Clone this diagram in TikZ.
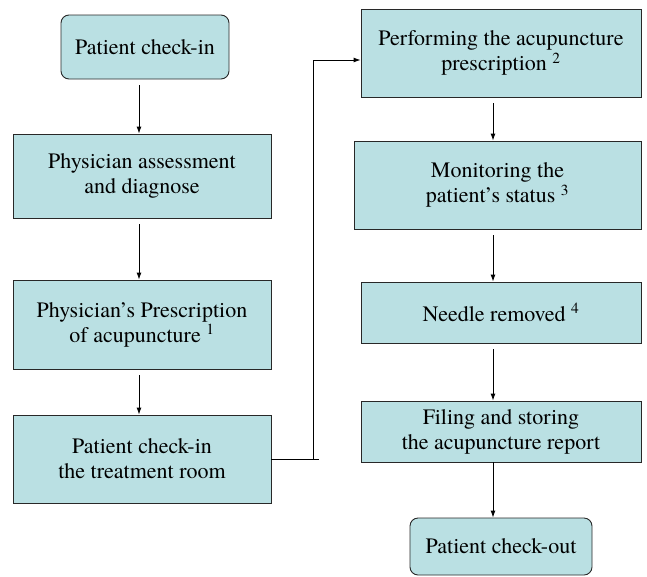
\documentclass[tikz,border=0pt]{standalone}
\usepackage{fontspec}
\newfontfamily\termsfont{TeX Gyre Termes}
\usetikzlibrary{arrows.meta}
\definecolor{boxfill}{RGB}{186,224,227}
\definecolor{boxline}{RGB}{40,40,40}
\tikzset{
  stepbox/.style={draw=boxline, fill=boxfill, line width=0.9pt, inner sep=0pt,
    align=center, font=\termsfont\fontsize{22}{25}\selectfont},
  endbox/.style={stepbox, rounded corners=8pt},
  flow/.style={-{Latex[length=7pt,width=5pt]}, line width=0.9pt, shorten <=6pt},
}
\begin{document}
\begin{tikzpicture}[x=1pt, y=-1pt]
    \useasboundingbox (0,0) rectangle (647,576);
    % left column
    \node[endbox, minimum width=168pt, minimum height=64pt] (checkin) at (145,47) {Patient check-in};
    \node[stepbox, minimum width=258pt, minimum height=84pt] (assess) at (142,176) {Physician assessment\\and diagnose};
    \node[stepbox, minimum width=258pt, minimum height=89pt] (prescr) at (142,324.5) {Physician’s Prescription\\of acupuncture \textsuperscript{1}};
    \node[stepbox, minimum width=258pt, minimum height=88pt] (treat) at (142,459) {Patient check-in\\the treatment room};
    % right column
    \node[stepbox, minimum width=280pt, minimum height=88pt] (perform) at (501,53) {Performing the acupuncture\\prescription \textsuperscript{2}};
    \node[stepbox, minimum width=287pt, minimum height=88pt] (monitor) at (497.5,185) {Monitoring the\\patient’s status \textsuperscript{3}};
    \node[stepbox, minimum width=280pt, minimum height=61pt] (needle) at (501,312.5) {Needle removed \textsuperscript{4}};
    \node[stepbox, minimum width=280pt, minimum height=61pt] (filing) at (501,431.5) {Filing and storing\\the acupuncture report};
    \node[endbox, minimum width=182pt, minimum height=57pt] (checkout) at (501,546.5) {Patient check-out};
    % arrows
    \draw[flow] ([xshift=-6pt]checkin.south) -- ([xshift=-3pt]assess.north);
    \draw[flow] ([xshift=-3pt]assess.south) -- ([xshift=-3pt]prescr.north);
    \draw[flow] ([xshift=-3pt]prescr.south) -- ([xshift=-3pt]treat.north);
    \draw[flow] ([xshift=-8pt]perform.south) -- ([xshift=-4.5pt]monitor.north);
    \draw[flow] ([xshift=-4.5pt]monitor.south) -- ([xshift=-8pt]needle.north);
    \draw[flow] ([xshift=-8pt]needle.south) -- ([xshift=-8pt]filing.north);
    \draw[flow, shorten <=0pt] ([xshift=-8pt]filing.south) -- ([xshift=-8pt]checkout.north);
    % link between the columns
    \coordinate (tail) at (319,459);
    \coordinate (bendlow) at (313,459);
    \coordinate (bendhigh) at (313,60);
    \draw[line width=0.9pt] (treat.east) -- (tail);
    \draw[flow, shorten <=0pt] (bendlow) -- (bendhigh) -- ([yshift=-7pt]perform.west);
\end{tikzpicture}
\end{document}
